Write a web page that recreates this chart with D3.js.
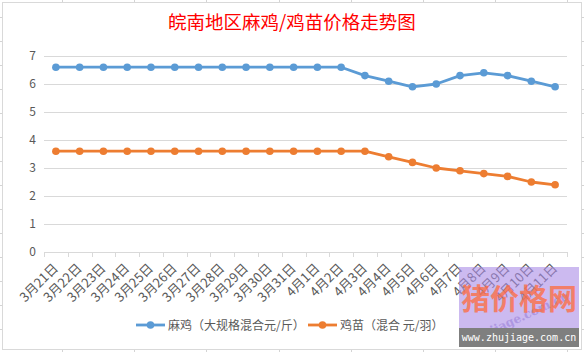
<!DOCTYPE html>
<html>
<head>
<meta charset="utf-8">
<script src="https://cdn.jsdelivr.net/npm/d3@7"></script>
<style>
  body { margin: 0; background: #fff; }
  svg { display: block; font-family: "Noto Sans CJK SC", "Noto Sans", sans-serif; }
</style>
</head>
<body>
<svg width="584" height="352"></svg>
<script>
// chart data
const dates = ["3月21日", "3月22日", "3月23日", "3月24日", "3月25日", "3月26日", "3月27日", "3月28日",
  "3月29日", "3月30日", "3月31日", "4月1日", "4月2日", "4月3日", "4月4日", "4月5日", "4月6日",
  "4月7日", "4月8日", "4月9日", "4月10日", "4月11日"];
const maji = [6.6, 6.6, 6.6, 6.6, 6.6, 6.6, 6.6, 6.6, 6.6, 6.6, 6.6, 6.6, 6.6,
  6.3, 6.1, 5.9, 6.0, 6.3, 6.4, 6.3, 6.1, 5.9];
const jimiao = [3.6, 3.6, 3.6, 3.6, 3.6, 3.6, 3.6, 3.6, 3.6, 3.6, 3.6, 3.6, 3.6,
  3.6, 3.4, 3.2, 3.0, 2.9, 2.8, 2.7, 2.5, 2.4];
const yTicks = [0, 1, 2, 3, 4, 5, 6, 7];
const seriesNames = ["麻鸡（大规格混合元/斤）", "鸡苗（混合 元/羽）"];
const titleText = "皖南地区麻鸡/鸡苗价格走势图";

window.onload = init;

function init() {
    const svg = d3.select("svg");
    const W = 584, H = 352;
    const colors = ["#5B9BD5", "#ED7D31"];

    // spreadsheet cell lines peeking round the chart
    const edge = svg.append("g").attr("stroke", "#d4d4d4").attr("stroke-width", 1);
    d3.range(17, H, 24).forEach(y => {
        edge.append("line").attr("x1", 0).attr("x2", 2).attr("y1", y + 0.5).attr("y2", y + 0.5);
        edge.append("line").attr("x1", 582).attr("x2", W).attr("y1", y + 0.5).attr("y2", y + 0.5);
    });
    d3.range(62, W, 72.2).forEach(x => {
        edge.append("line").attr("x1", Math.round(x) + 0.5).attr("x2", Math.round(x) + 0.5).attr("y1", 0).attr("y2", 2);
        edge.append("line").attr("x1", Math.round(x) + 0.5).attr("x2", Math.round(x) + 0.5).attr("y1", 350).attr("y2", H);
    });

    // chart area border
    svg.append("rect")
        .attr("x", 2.5).attr("y", 2.5)
        .attr("width", 579).attr("height", 347)
        .attr("fill", "#fff").attr("stroke", "#d9d9d9");

    // title
    svg.append("text")
        .attr("x", 292).attr("y", 29)
        .attr("text-anchor", "middle")
        .attr("fill", "#ff0000")
        .style("font-size", "18.5px")
        .text(titleText);

    const x = d3.scaleBand().domain(dates).range([44, 567]);
    const y = d3.scaleLinear().domain([0, 7]).range([252, 56]);
    const cx = d => x(d) + x.bandwidth() / 2;

    // gridlines
    svg.append("g").selectAll("line")
        .data(yTicks.filter(t => t > 0))
        .join("line")
        .attr("x1", 44).attr("x2", 567)
        .attr("y1", d => Math.round(y(d)) + 0.5).attr("y2", d => Math.round(y(d)) + 0.5)
        .attr("stroke", "#d9d9d9");

    // y labels
    svg.append("g").selectAll("text")
        .data(yTicks)
        .join("text")
        .attr("x", 36).attr("y", d => y(d) + 4)
        .attr("text-anchor", "end")
        .attr("fill", "#595959")
        .style("font-size", "12px")
        .text(d => d);

    // x axis with ticks between categories
    const xAxis = svg.append("g").attr("stroke", "#d9d9d9");
    xAxis.append("line")
        .attr("x1", 44).attr("x2", 567)
        .attr("y1", 252.5).attr("y2", 252.5);
    xAxis.selectAll("line.tk")
        .data(dates.concat(["end"]))
        .join("line")
        .attr("class", "tk")
        .attr("x1", (d, i) => Math.round(44 + i * x.step()) + 0.5)
        .attr("x2", (d, i) => Math.round(44 + i * x.step()) + 0.5)
        .attr("y1", 252).attr("y2", 257);

    // x labels rotated
    svg.append("g").selectAll("text")
        .data(dates)
        .join("text")
        .attr("transform", d => `translate(${cx(d) + 3},${269}) rotate(-45)`)
        .attr("text-anchor", "end")
        .attr("fill", "#595959")
        .style("font-size", "13px")
        .text(d => d);

    // lines and markers
    const series = [maji, jimiao];
    const line = d3.line().x((d, i) => cx(dates[i])).y(d => y(d));
    series.forEach((vals, s) => {
        svg.append("path")
            .datum(vals)
            .attr("d", line)
            .attr("fill", "none")
            .attr("stroke", colors[s])
            .attr("stroke-width", 2.8)
            .attr("stroke-linejoin", "round");
        svg.append("g").selectAll("circle")
            .data(vals)
            .join("circle")
            .attr("cx", (d, i) => cx(dates[i]))
            .attr("cy", d => y(d))
            .attr("r", 3.8)
            .attr("fill", colors[s]);
    });

    // legend
    const legendX = [136, 308];
    const legend = svg.append("g").selectAll("g")
        .data(seriesNames)
        .join("g")
        .attr("transform", (d, i) => `translate(${legendX[i]},325)`);
    legend.append("line")
        .attr("x1", 0).attr("x2", 29)
        .attr("stroke", (d, i) => colors[i])
        .attr("stroke-width", 2.8);
    legend.append("circle")
        .attr("cx", 14.5).attr("r", 3.8)
        .attr("fill", (d, i) => colors[i]);
    legend.append("text")
        .attr("x", 32).attr("y", 4.5)
        .attr("fill", "#595959")
        .style("font-size", "12px")
        .text(d => d);

    // watermark
    const wm = svg.append("g");
    wm.append("rect")
        .attr("x", 459).attr("y", 267).attr("width", 120).attr("height", 61)
        .attr("fill", "rgb(170,140,230)").attr("opacity", 0.6);
    wm.append("text")
        .attr("transform", "translate(520,322) rotate(-25)")
        .attr("text-anchor", "middle")
        .attr("fill", "#9a80d8").attr("opacity", 0.6)
        .style("font-size", "12px").style("font-weight", "bold")
        .style("font-family", "DejaVu Serif, serif")
        .text("zhujiage.com.cn");
    wm.append("text")
        .attr("x", 519).attr("y", 310)
        .attr("text-anchor", "middle")
        .attr("fill", "#ff6a3d").attr("opacity", 0.75)
        .style("font-size", "29px").style("font-weight", "bold")
        .style("font-family", "Noto Sans CJK SC, serif")
        .text("猪价格网");
    wm.append("rect")
        .attr("x", 459).attr("y", 328).attr("width", 120).attr("height", 19)
        .attr("fill", "#7f7f7f");
    wm.append("text")
        .attr("x", 519).attr("y", 341)
        .attr("text-anchor", "middle")
        .attr("fill", "#fff")
        .style("font-size", "10px")
        .style("font-family", "DejaVu Sans Mono, monospace")
        .text("www.zhujiage.com.cn");
}
</script>
</body>
</html>
